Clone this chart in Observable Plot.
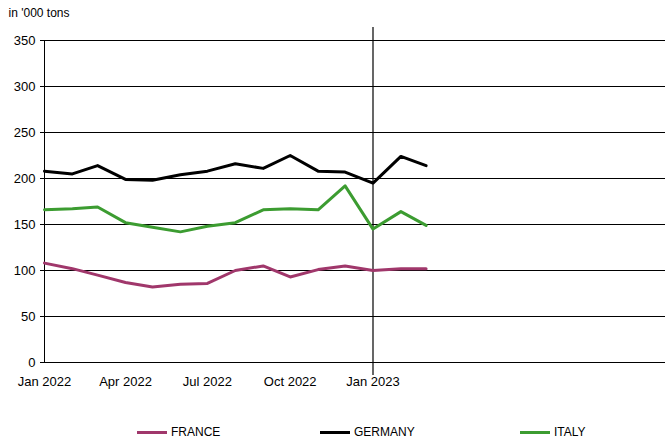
<!DOCTYPE html>
<html><head><meta charset="utf-8">
<script src="https://cdn.jsdelivr.net/npm/d3@7"></script>
<script src="https://cdn.jsdelivr.net/npm/@observablehq/plot@0.6"></script>
<style>
body{margin:0;background:#fff;font-family:"Liberation Sans",Arial,sans-serif;}
#legend{display:flex;font-size:12px;color:#000;height:30px;align-items:center;position:relative;margin-top:12px;}
.item{position:absolute;display:flex;align-items:center;gap:4px;}
.sw{width:30px;height:3px;display:inline-block;}
</style></head>
<body>
<div id="chart"></div>
<div id="legend"></div>
<script>
const MONTHS = ["2022-01","2022-02","2022-03","2022-04","2022-05","2022-06","2022-07","2022-08","2022-09","2022-10","2022-11","2022-12","2023-01","2023-02","2023-03"];
const FRANCE = [108,102,95,87,82,85,86,100,105,93,101,105,100,102,102];
const GERMANY = [208,205,214,199,198,204,208,216,211,225,208,207,195,224,214];
const ITALY = [166,167,169,152,147,142,148,152,166,167,166,192,145,164,149];
const SERIES = [
  {name: "FRANCE", values: FRANCE, color: "#a0376b", lx: 137},
  {name: "GERMANY", values: GERMANY, color: "#000000", lx: 320},
  {name: "ITALY", values: ITALY, color: "#3c9c31", lx: 520},
];
const X_TICKS = ["2022-01","2022-04","2022-07","2022-10","2023-01"];

const parse = d3.utcParse("%Y-%m");
const rows = SERIES.flatMap(s => s.values.map((v, i) => ({series: s.name, date: parse(MONTHS[i]), value: v})));

const plot = Plot.plot({
  width: 667, height: 405,
  marginLeft: 44, marginRight: 2, marginTop: 40, marginBottom: 43,
  style: {fontFamily: '"Liberation Sans", Arial, sans-serif', fontSize: "13px", color: "#000"},
  x: {type: "utc", domain: [parse("2022-01"), new Date(Date.UTC(2023, 10, 22))],
      ticks: X_TICKS.map(parse), tickFormat: d3.utcFormat("%b %Y"), tickSize: 0, tickPadding: 14, label: null},
  y: {domain: [0, 350], ticks: d3.range(0, 351, 50), tickSize: 4, label: null},
  color: {domain: SERIES.map(s => s.name), range: SERIES.map(s => s.color)},
  marks: [
    Plot.gridY(d3.range(50, 351, 50), {stroke: "#000", strokeOpacity: 1, strokeWidth: 1}),
    Plot.ruleY([0], {stroke: "#000"}),
    Plot.ruleX([parse("2022-01")], {y1: 0, y2: 350, stroke: "#000"}),
    Plot.ruleX([parse("2023-01")], {y1: -14, y2: 364, stroke: "#000", strokeWidth: 1.2, clip: false}),
    Plot.line(rows, {x: "date", y: "value", z: "series", stroke: "series", strokeWidth: 3}),
    Plot.text(["in '000 tons"], {frameAnchor: "top-left", dx: -36, dy: -32, textAnchor: "start", fontSize: 12}),
  ],
});
document.getElementById("chart").append(plot);

const lg = document.getElementById("legend");
for (const s of SERIES) {
  const d = document.createElement("div");
  d.className = "item";
  d.style.left = s.lx + "px";
  d.innerHTML = `<span class="sw" style="background:${s.color}"></span><span>${s.name}</span>`;
  lg.append(d);
}
</script>
</body></html>
